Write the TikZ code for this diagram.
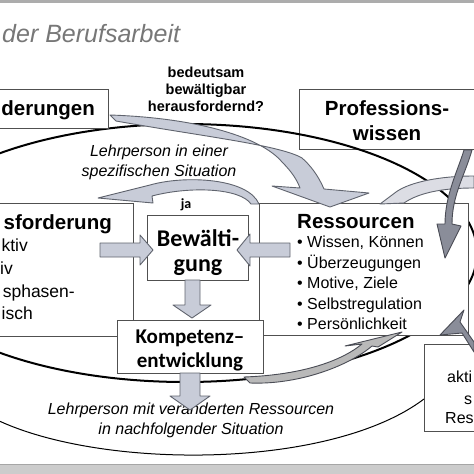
\documentclass[tikz,border=0pt]{standalone}
\usepackage{fontspec}
\setmainfont{Liberation Sans}
\newfontfamily\calfont{Carlito}
\definecolor{boxline}{HTML}{505050}
\definecolor{arrfill}{HTML}{C8CCD8}
\definecolor{arrline}{HTML}{60646E}
\definecolor{lightfill}{HTML}{DCDDE4}
\definecolor{darkfill}{HTML}{8A8D99}
\definecolor{darkline}{HTML}{4A4C55}
\definecolor{titlegray}{HTML}{777777}
\begin{document}
\begin{tikzpicture}[x=1pt,y=-1pt,
  box/.style={draw=boxline,fill=white,line width=1.1pt,anchor=north west,inner sep=0pt},
  lightarrow/.style={draw=arrline,fill=arrfill,line width=0.9pt,line join=round},
  paleArrow/.style={draw=arrline,fill=lightfill,line width=0.9pt,line join=round},
  darkarrow/.style={draw=darkline,fill=darkfill,line width=0.9pt,line join=round},
  bigtxt/.style={font=\fontsize{20.5}{24}\selectfont\bfseries,inner sep=0pt},
  listtxt/.style={font=\fontsize{16}{20.5}\selectfont,inner sep=0pt},
  leftlist/.style={font=\fontsize{17.5}{20.5}\selectfont,inner sep=0pt},
  itxt/.style={font=\fontsize{16}{20}\selectfont\itshape,inner sep=0pt},
  caltxt/.style={font=\calfont\bfseries,inner sep=0pt}]
\useasboundingbox (0,0) rectangle (474,474);
\clip (0,0) rectangle (474,474);
% frame bars
\fill[gray!65] (0,0) rectangle (474,2.5);
\fill[gray!40] (0,464) rectangle (474,474);
\draw[gray!70,line width=1pt] (0,464) -- (474,464);
% title
\node[font=\fontsize{25}{28}\selectfont\itshape,text=titlegray,anchor=base west,inner sep=0pt] (title) at (2,42) {der Berufsarbeit};
% Professions box (open, the ellipse runs across its corner)
\node[box,fill=none,minimum width=186,minimum height=60] (prof) at (299,89) {};
% ellipse and outer curve
\draw[line width=2pt] (185,253) ellipse [x radius=292, y radius=129];
\coordinate (oc1) at (-5,419);
\coordinate (oc2) at (424,399);
\draw[line width=1pt] (oc1) .. controls (100,470) and (330,470) .. (oc2);
% boxes
\node[box,minimum width=118,minimum height=39] (anf) at (-10,89) {};
\node[box,minimum width=143,minimum height=133] (her) at (-10,203) {};
\node[box,minimum width=209,minimum height=132] (res) at (259,203) {};
\node[box,minimum width=60,minimum height=87] (akt) at (424,344) {};
\node[box,minimum width=101,minimum height=65] (bew) at (147,215) {};
% texts
\node[bigtxt,anchor=base east] (anft) at (95,115) {derungen};
\node[bigtxt,anchor=base] (proft1) at (387,115) {Professions-};
\node[bigtxt,anchor=base] (proft2) at (387,140) {wissen};
\node[font=\fontsize{14.5}{17}\selectfont\bfseries,align=center,inner sep=0pt] (q) at (206,89) {bedeutsam\\bewältigbar\\herausfordernd?};
\node[itxt,align=center] (lp1) at (159,162) {Lehrperson in einer\\spezifischen Situation};
\node[itxt,align=center] (lp2) at (191,420) {Lehrperson mit veränderten Ressourcen\\in nachfolgender Situation};
\node[bigtxt,anchor=base east] (hert) at (112,229) {sforderung};
\node[leftlist,anchor=base east] (h1) at (28,251) {ktiv};
\node[leftlist,anchor=base east] (h2) at (13,274) {iv};
\node[leftlist,anchor=base east] (h3) at (75,297) {sphasen-};
\node[leftlist,anchor=base east] (h4) at (33,319) {isch};
\node[bigtxt,anchor=base west] (rest) at (297,228) {Ressourcen};
\node[listtxt,anchor=north west,align=left] (resl) at (297,236) {• Wissen, Können\\• Überzeugungen\\• Motive, Ziele\\• Selbstregulation\\• Persönlichkeit};
\node[listtxt,anchor=base west] (a1) at (447,382) {akti};
\node[listtxt,anchor=base west] (a2) at (464,404) {s};
\node[listtxt,anchor=base west] (a3) at (445,423) {Res};
\node[caltxt,font=\calfont\bfseries\fontsize{24}{25}\selectfont,align=center] (bewt) at (198,253) {Bewälti-\\gung};
\node[caltxt,font=\calfont\bfseries\fontsize{14}{16}\selectfont] (ja) at (186,205) {ja};
% light arrows
\draw[lightarrow] (110,115) .. controls (200,118) and (262,138) .. (282,162) .. controls (292,172) and (297,180) .. (300,188) -- (272,186) -- (330,207) -- (369,193) -- (324,189) .. controls (318,175) and (310,165) .. (302,158) .. controls (280,145) and (200,136) .. (116,121) -- cycle;
\draw[paleArrow] (474,176) .. controls (440,176) and (410,182) .. (396,192) -- (380,204) -- (404,203) .. controls (420,192) and (445,188) .. (474,188) -- cycle;
\draw[lightarrow] (259,204) .. controls (248,178) and (185,175) .. (150,185) -- (98,198) -- (153,203) -- (152,196) .. controls (190,186) and (240,188) .. (251,204) -- cycle;
\draw[lightarrow] (100,243) -- (140,243) -- (140,235) -- (153,250) -- (140,265) -- (140,257) -- (100,257) -- cycle;
\draw[lightarrow] (290,243) -- (250,243) -- (250,234) -- (237,250) -- (250,266) -- (250,257) -- (290,257) -- cycle;
\draw[lightarrow] (185,280) -- (185,305) -- (173,305) -- (192,318) -- (211,305) -- (200,305) -- (200,280) -- cycle;
% dark arrows right
\draw[darkarrow] (472,150) .. controls (465,175) and (452,195) .. (452,224) -- (461,226) -- (445,258) -- (437,224) -- (445,224) .. controls (445,195) and (458,170) .. (464,150) -- cycle;
\draw[darkarrow] (474,342) -- (460,322) -- (464,310) -- (440,335) -- (462,333) -- (474,352) -- cycle;
% Kompetenz box
\node[box,minimum width=146,minimum height=53] (komp) at (117,320) {};
\node[caltxt,font=\calfont\bfseries\fontsize{21}{24}\selectfont,align=center] (kompt) at (190,350) {Kompetenz–\\entwicklung};
\draw[lightarrow] (180,373) -- (180,396) -- (170,396) -- (190,410) -- (210,396) -- (200,396) -- (200,373) -- cycle;
\draw[darkarrow,fill=gray!55] (244,377) .. controls (300,375) and (340,362) .. (362,344) -- (345,346) -- (402,332) -- (378,347) -- (372,346) .. controls (350,365) and (300,385) .. (250,383) -- cycle;
\end{tikzpicture}
\end{document}
